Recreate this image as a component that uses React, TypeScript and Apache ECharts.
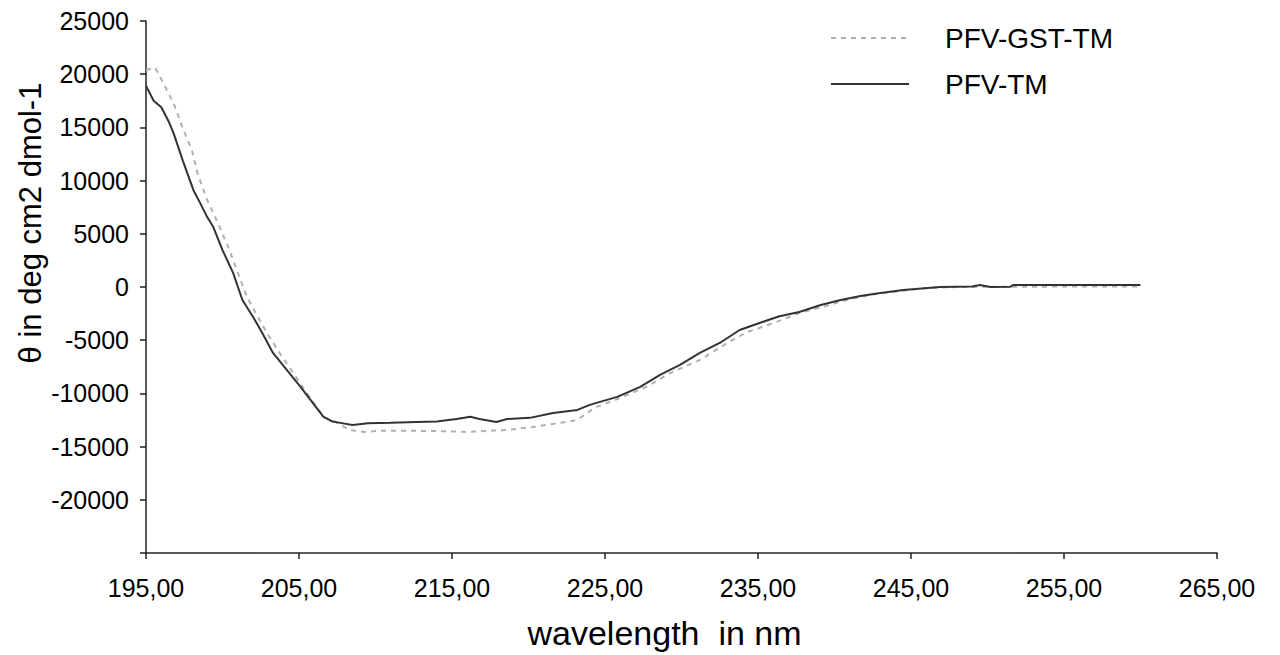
import React, { useEffect, useRef } from "react";
import * as echarts from "echarts";

const xTicks = [195, 205, 215, 225, 235, 245, 255, 265];
const yTicks = [-25000, -20000, -15000, -10000, -5000, 0, 5000, 10000, 15000, 20000, 25000];

const wavelengthTM = [
  195.0, 195.5, 196.0, 196.5, 196.8, 197.4, 198.1, 198.5, 199.0, 199.4, 200.0, 200.7, 201.3, 202.0,
  202.6, 203.3, 204.2, 205.1, 205.9, 206.6, 207.2, 207.7, 208.5, 209.5, 211.0, 212.7, 214.0, 215.3,
  216.2, 216.8, 217.9, 218.6, 220.1, 221.6, 223.2, 224.0, 225.8, 227.3, 228.6, 229.9, 231.2, 232.5,
  233.8, 235.1, 236.4, 237.7, 239.1, 240.4, 241.7, 243.0, 244.5, 246.9, 249.0, 249.5, 250.2, 251.5,
  251.7, 255.0, 260.0,
];
const thetaTM = [
  18900, 17500, 16900, 15500, 14460, 11900, 9100, 8000, 6570, 5630, 3470, 1310, -1220, -2820,
  -4320, -6200, -7800, -9390, -10900, -12200, -12650, -12770, -12960, -12800, -12750, -12680, -12650, -12400,
  -12200, -12400, -12680, -12400, -12300, -11840, -11550, -11080, -10330, -9390, -8260, -7320, -6200, -5260,
  -4040, -3380, -2750, -2350, -1690, -1220, -850, -560, -280, 0, 50, 190, 0, 30,
  190, 190, 190,
];

const wavelengthGST = [
  195.0, 195.6, 196.1, 196.8, 197.4, 198.0, 198.4, 199.0, 199.7, 200.4, 201.6, 202.9, 203.9, 204.4,
  205.5, 206.6, 207.5, 208.3, 209.2, 210.5, 212.7, 214.5, 216.0, 217.5, 218.6, 220.3, 222.1, 223.2,
  224.3, 226.0, 227.7, 229.3, 231.2, 233.0, 234.3, 236.2, 237.7, 239.2, 240.8, 242.5, 244.5, 246.0,
  248.0, 252.0, 260.0,
];
const thetaGST = [
  20400, 20600, 19250, 17280, 14930, 12860, 10520, 8170, 6010, 3660, -940, -4320, -6570, -7600,
  -9950, -12200, -12770, -13430, -13620, -13500, -13520, -13550, -13620, -13500, -13430, -13150, -12770, -12490,
  -11360, -10420, -9390, -8070, -6850, -5260, -4230, -3290, -2440, -1880, -1220, -700, -350, -100,
  0, 30, 50,
];

const FONT = "'Liberation Sans', Arial, Helvetica, sans-serif";

export default function App() {
  const ref = useRef<HTMLDivElement>(null);
  useEffect(() => {
    document.body.style.margin = "0";
    const chart = echarts.init(ref.current!, null, { renderer: "svg" });
    const gst = wavelengthGST.map((x, i) => [x, thetaGST[i]]);
    const tm = wavelengthTM.map((x, i) => [x, thetaTM[i]]);
    chart.setOption({
      animation: false,
      backgroundColor: "#ffffff",
      grid: { left: 146, right: 63, top: 21, bottom: 102, containLabel: false },
      legend: {
        orient: "vertical",
        left: 825,
        top: 19,
        itemWidth: 78,
        itemHeight: 28,
        itemGap: 18,
        data: ["PFV-GST-TM", "PFV-TM"],
        itemStyle: { opacity: 0 },
        textStyle: { fontSize: 28, color: "#000", fontFamily: FONT, padding: [0, 0, 0, 31] },
      },
      xAxis: {
        type: "value",
        min: xTicks[0],
        max: xTicks[xTicks.length - 1],
        interval: 10,
        name: "wavelength  in nm",
        nameLocation: "middle",
        nameGap: 63,
        nameTextStyle: { fontSize: 34, color: "#000", fontFamily: FONT, padding: [0, 34, 0, 0] },
        axisLine: { show: true, onZero: false, lineStyle: { color: "#222", width: 1.5 } },
        axisTick: { show: true, length: 6, lineStyle: { color: "#222", width: 1.5 } },
        axisLabel: {
          fontSize: 25,
          color: "#000",
          fontFamily: FONT,
          margin: 22,
          formatter: (v: number) => v.toFixed(2).replace(".", ","),
        },
        splitLine: { show: false },
      },
      yAxis: {
        type: "value",
        min: yTicks[0],
        max: yTicks[yTicks.length - 1],
        interval: 5000,
        axisLine: { show: true, onZero: false, lineStyle: { color: "#222", width: 1.5 } },
        axisTick: { show: true, length: 6, lineStyle: { color: "#222", width: 1.5 } },
        axisLabel: {
          fontSize: 25,
          color: "#000",
          fontFamily: FONT,
          margin: 17,
          formatter: (v: number) => (v === yTicks[0] ? "" : String(v)),
        },
        splitLine: { show: false },
      },
      graphic: [
        {
          type: "text",
          x: 30,
          y: 223,
          rotation: Math.PI / 2,
          style: {
            text: "θ in deg cm2 dmol-1",
            font: `31px ${FONT}`,
            fill: "#000",
            align: "center",
            verticalAlign: "middle",
            textAlign: "center",
            textVerticalAlign: "middle",
          },
        },
      ],
      series: [
        {
          name: "PFV-GST-TM",
          type: "line",
          data: gst,
          symbol: "none",
          lineStyle: { color: "#b0b0b0", width: 2, type: [5, 5] },
          itemStyle: { color: "#b0b0b0" },
          z: 2,
        },
        {
          name: "PFV-TM",
          type: "line",
          data: tm,
          symbol: "none",
          lineStyle: { color: "#333333", width: 2, type: "solid" },
          itemStyle: { color: "#333333" },
          z: 3,
        },
      ],
    });
    return () => chart.dispose();
  }, []);
  return <div ref={ref} style={{ width: 1280, height: 655 }} />;
}
